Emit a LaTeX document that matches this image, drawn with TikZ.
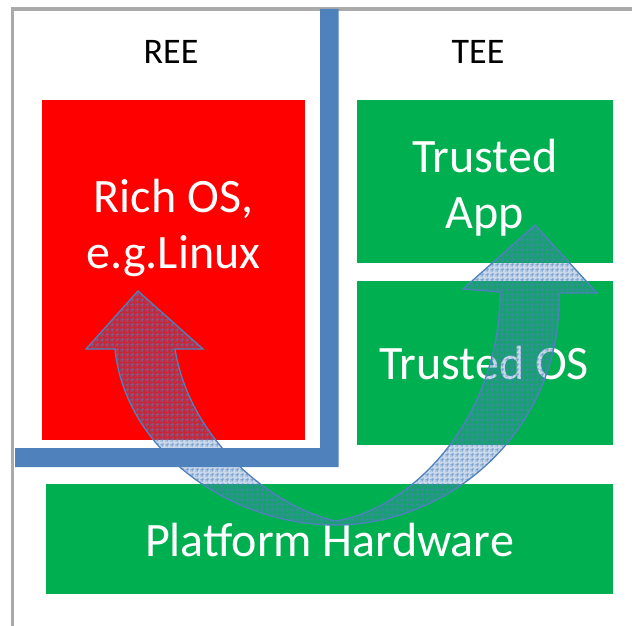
\documentclass[tikz,border=0pt]{standalone}
\usepackage{fontspec}
\setmainfont{Carlito}
\usetikzlibrary{patterns}
\definecolor{frame}{RGB}{170,170,170}
\definecolor{bar}{RGB}{79,129,189}
\definecolor{ogreen}{RGB}{0,176,80}
\definecolor{ored}{RGB}{255,0,0}
\pgfdeclarepatternformonly{mygrid}{\pgfpointorigin}{\pgfpoint{4.5pt}{4.5pt}}{\pgfpoint{4.5pt}{4.5pt}}{%
  \pgfsetlinewidth{0.6pt}%
  \pgfpathmoveto{\pgfpoint{0pt}{2.25pt}}\pgfpathlineto{\pgfpoint{4.5pt}{2.25pt}}%
  \pgfpathmoveto{\pgfpoint{2.25pt}{0pt}}\pgfpathlineto{\pgfpoint{2.25pt}{4.5pt}}%
  \pgfusepath{stroke}%
  \pgfpathcircle{\pgfpoint{0.9pt}{0.9pt}}{0.35pt}%
  \pgfpathcircle{\pgfpoint{3.6pt}{3.6pt}}{0.35pt}%
  \pgfusepath{fill}}
\tikzset{
  boxnode/.style={draw=none, inner sep=0pt, anchor=north west},
  bigtext/.style={text=white, font=\fontsize{48}{57}\selectfont, anchor=base, inner sep=0pt},
  headtext/.style={text=black, font=\fontsize{36}{43}\selectfont, anchor=base, inner sep=0pt},
}
\begin{document}
\begin{tikzpicture}[x=1pt,y=-1pt]
\useasboundingbox (0,0) rectangle (632,626);
% outer frame
\draw[frame, line width=3.2pt] (12.5,626) -- (12.5,9) -- (632,9);
% REE / TEE separator
\fill[bar] (320,9) -- (338.5,9) -- (338.5,467) -- (15,467) -- (15,448) -- (320,448) -- cycle;
% boxes
\node[boxnode, fill=ored, minimum width=263pt, minimum height=340pt] (rich) at (42,100) {};
\node[boxnode, fill=ogreen, minimum width=256pt, minimum height=163pt] (tapp) at (357,100) {};
\node[boxnode, fill=ogreen, minimum width=256pt, minimum height=164pt] (tos) at (357,281) {};
\node[boxnode, fill=ogreen, minimum width=567pt, minimum height=110pt] (hw) at (46,484) {};
% texts
\node[headtext] (ree) at (171,64) {REE};
\node[headtext] (tee) at (478,64) {TEE};
\node[bigtext] (rich1) at (173.5,212) {Rich OS,};
\node[bigtext] (rich2) at (173.5,268) {e.g.Linux};
\node[bigtext] (app1) at (485,172) {Trusted};
\node[bigtext] (app2) at (485,228) {App};
\node[bigtext] (tos1) at (484,379) {Trusted OS};
\node[bigtext] (hw1) at (329.5,556) {Platform Hardware};
% curved double arrow
\path[save path=\arrowp]
  (138,291) -- (203,349) -- (175,349)
  .. controls (190,440) and (270,505) .. (335,521)
  .. controls (410,510) and (500,420) .. (500,292)
  -- (463,289) -- (535,225) -- (597,293) -- (559,293)
  .. controls (562,430) and (450,525) .. (335,525)
  .. controls (230,525) and (125,450) .. (115,349)
  -- (86,349) -- cycle;
\fill[bar, fill opacity=0.3, use path=\arrowp];
\fill[pattern=mygrid, pattern color=bar, use path=\arrowp];
\draw[bar, line width=1.3pt, line join=miter, use path=\arrowp];
\end{tikzpicture}
\end{document}
